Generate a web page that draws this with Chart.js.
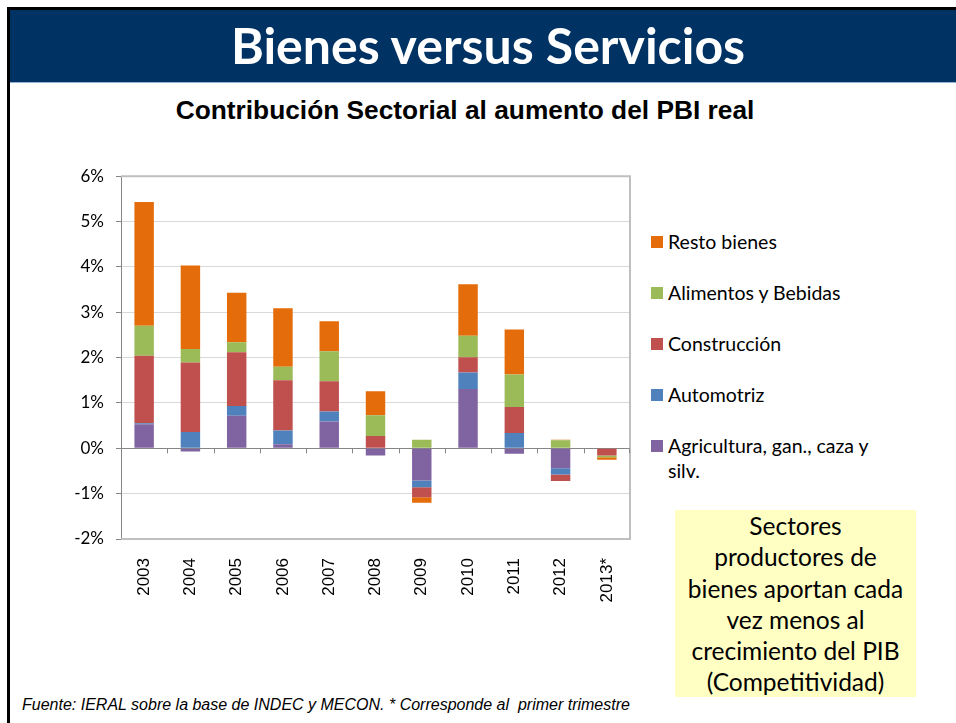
<!DOCTYPE html>
<html>
<head>
<meta charset="utf-8">
<script src="https://cdn.jsdelivr.net/npm/chart.js@4"></script>
<style>
  body { margin: 0; width: 956px; height: 723px; background: #fff; position: relative; overflow: hidden; }
  .abs { position: absolute; }
  #header { left: 10px; top: 10px; width: 946px; height: 72px; background: #003263; }
  #title { left: 10px; top: 15px; width: 956px; height: 72px; line-height: 70px; text-align: center;
           color: #fff; font: bold 50px Lato, sans-serif; }
  #subtitle { left: 0; top: 95px; width: 930px; text-align: center; font: bold 26.3px "Liberation Sans", Arial, sans-serif; color: #000; }
  #legend { left: 651px; top: 229px; width: 229px; font: 19.5px Lato, sans-serif; color: #000; }
  .leg-item { position: relative; padding-left: 17px; height: 51px; line-height: 25px; }
  .leg-box { position: absolute; left: 0; top: 7px; width: 12px; height: 12px; }
  #note { left: 675px; top: 510px; width: 241px; height: 187px; background: #FFFFC4; text-align: center;
          font: 24.5px Lato, sans-serif; line-height: 31.3px; color: #000; }
  #footer { left: 22px; top: 696px; font: italic 16px "Liberation Sans", Arial, sans-serif; color: #000; white-space: pre; }
</style>
</head>
<body>
<div class="abs" style="left:7px;top:7px;width:949px;height:3px;background:#000"></div>
<div class="abs" style="left:7px;top:7px;width:3px;height:716px;background:#000"></div>
<div class="abs" id="header"></div>
<div class="abs" style="left:10px;top:82px;width:946px;height:1px;background:#95B3D7"></div>
<div class="abs" id="title">Bienes versus Servicios</div>
<div class="abs" id="subtitle">Contribución Sectorial al aumento del PBI real</div>
<canvas class="abs" id="chart" style="left:40px;top:154px;" width="600" height="480"></canvas>
<div class="abs" id="legend"></div>
<div class="abs" id="note">Sectores<br>productores de<br>bienes aportan cada<br>vez menos al<br>crecimiento del PIB<br>(Competitividad)</div>
<div class="abs" id="footer">Fuente: IERAL sobre la base de INDEC y MECON. * Corresponde al  primer trimestre</div>

<script>
// years on the x axis
const YEARS = ['2003', '2004', '2005', '2006', '2007', '2008', '2009', '2010', '2011', '2012', '2013*'];

// contribution to real GDP growth, percentage points
const AGRICULTURA = [0.53, -0.07, 0.72, 0.09, 0.59, -0.16, -0.71, 1.31, -0.12, -0.44, 0];
const AUTOMOTRIZ  = [0.02, 0.36, 0.21, 0.30, 0.22, 0, -0.15, 0.36, 0.34, -0.14, 0];
const CONSTRUCCION = [1.49, 1.53, 1.19, 1.11, 0.67, 0.27, -0.22, 0.34, 0.57, -0.14, -0.16];
const ALIMENTOS   = [0.66, 0.30, 0.22, 0.30, 0.66, 0.46, 0.19, 0.47, 0.72, 0.18, -0.04];
const RESTO       = [2.73, 1.84, 1.09, 1.29, 0.66, 0.53, -0.12, 1.14, 0.99, 0.01, -0.05];

const Y_TICKS = [-2, -1, 0, 1, 2, 3, 4, 5, 6];

const SERIES = [
    { label: 'Agricultura, gan., caza y silv.', data: AGRICULTURA, color: '#8064A2' },
    { label: 'Automotriz', data: AUTOMOTRIZ, color: '#4F81BD' },
    { label: 'Construcción', data: CONSTRUCCION, color: '#C0504D' },
    { label: 'Alimentos y Bebidas', data: ALIMENTOS, color: '#9BBB59' },
    { label: 'Resto bienes', data: RESTO, color: '#E46C0A' }
];

/* plot frame + tick marks on the zero line */
const framePlugin = {
    id: 'frame',
    afterDraw(chart) {
        const ctx = chart.ctx;
        const a = chart.chartArea;
        const x = chart.scales.x;
        const y0 = chart.scales.y.getPixelForValue(0);
        ctx.save();
        ctx.strokeStyle = '#BFBFBF';
        ctx.lineWidth = 2;
        ctx.beginPath();
        ctx.moveTo(a.left, a.top);
        ctx.lineTo(a.right, a.top);
        ctx.lineTo(a.right, a.bottom);
        ctx.lineTo(a.left, a.bottom);
        ctx.stroke();
        ctx.strokeStyle = '#868686';
        ctx.lineWidth = 1;
        ctx.beginPath();
        for (let i = 1; i <= YEARS.length; i++) {
            const px = Math.round((x.getPixelForValue(i - 1) + x.getPixelForValue(i)) / 2) + 0.5;
            const xx = i === YEARS.length ? a.right - 0.5 : px;
            ctx.moveTo(xx, y0);
            ctx.lineTo(xx, y0 + 5);
        }
        ctx.stroke();
        ctx.restore();
    }
};

function initChart() {
    const ctx = document.getElementById('chart');
    return new Chart(ctx, {
        type: 'bar',
        data: {
            labels: YEARS,
            datasets: SERIES.map(s => ({
                label: s.label,
                data: s.data,
                backgroundColor: s.color,
                borderWidth: 0,
                barPercentage: 0.42,
                categoryPercentage: 1
            }))
        },
        options: {
            responsive: false,
            animation: false,
            layout: { padding: { top: 9, right: 10, left: 0, bottom: 0 } },
            plugins: { legend: { display: false }, tooltip: { enabled: false } },
            scales: {
                x: {
                    stacked: true,
                    grid: { display: false },
                    border: { display: false },
                    ticks: {
                        minRotation: 90, maxRotation: 90, padding: 11,
                        color: '#000',
                        font: { family: '"Liberation Sans", Arial, sans-serif', size: 17 }
                    },
                    afterFit: s => { s.height = 95; }
                },
                y: {
                    stacked: true,
                    min: -2, max: 6,
                    afterBuildTicks: s => { s.ticks = Y_TICKS.map(v => ({ value: v })); },
                    grid: {
                        color: c => c.tick && c.tick.value === 0 ? '#868686' : '#D9D9D9',
                        tickColor: '#868686',
                        tickLength: 5,
                        lineWidth: 1
                    },
                    border: { color: '#868686', width: 1 },
                    ticks: {
                        padding: 12,
                        color: '#000',
                        font: { family: 'Lato, sans-serif', size: 17 },
                        callback: v => v + '%'
                    },
                    afterFit: s => { s.width = 81; }
                }
            }
        },
        plugins: [framePlugin]
    });
}

/* legend, same order as the reference (top series first) */
function buildLegend() {
    const box = document.getElementById('legend');
    SERIES.slice().reverse().forEach(s => {
        const item = document.createElement('div');
        item.className = 'leg-item';
        item.innerHTML = '<span class="leg-box" style="background:' + s.color + '"></span>' + s.label;
        box.appendChild(item);
    });
}

initChart();
buildLegend();
</script>
</body>
</html>
